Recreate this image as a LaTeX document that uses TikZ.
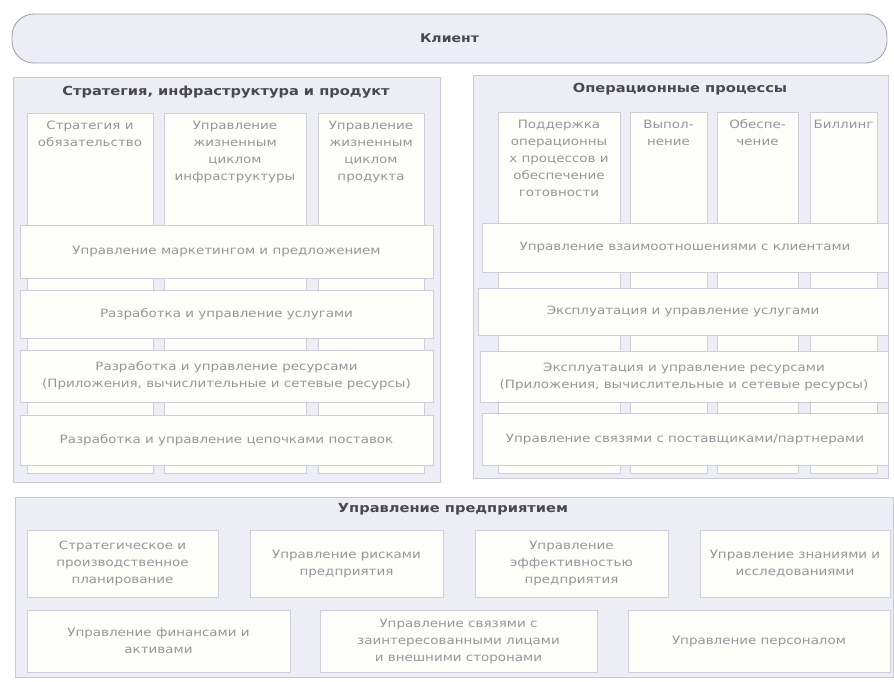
\documentclass[tikz,border=0pt]{standalone}
\usepackage{fontspec}
\setmainfont{DejaVu Sans}[FakeStretch=1.17]
\definecolor{panelfill}{RGB}{237,237,245}
\definecolor{paneldraw}{RGB}{200,200,214}
\definecolor{clientdraw}{RGB}{165,165,178}
\definecolor{boxfill}{RGB}{253,253,249}
\definecolor{boxdraw}{RGB}{206,206,218}
\definecolor{innertext}{RGB}{150,150,156}
\definecolor{titletext}{RGB}{72,72,78}
\newcommand{\mkbox}[7]{%
  \node[#1, minimum width={(#5-#3)*1pt}, minimum height={(#6-#4)*1pt}] (#2) at ({(#3+#5)/2},{(#4+#6)/2}) {#7};}
\tikzset{
  panel/.style={draw=paneldraw, fill=panelfill, line width=0.9pt, inner sep=0pt},
  client/.style={draw=clientdraw, fill=panelfill, line width=0.9pt, rounded corners=22pt, inner sep=0pt,
    font=\bfseries\fontsize{12}{14}\selectfont, text=titletext},
  title/.style={font=\bfseries\fontsize{12.5}{15}\selectfont, text=titletext, inner sep=0pt},
  colbox/.style={draw=boxdraw, fill=boxfill, line width=0.7pt, inner sep=0pt},
  coltext/.style={font=\fontsize{11.5}{17}\selectfont, text=innertext, align=center, inner sep=0pt},
  rowbox/.style={draw=boxdraw, fill=boxfill, line width=0.7pt, inner sep=2pt, align=center,
    font=\fontsize{11.5}{17}\selectfont, text=innertext},
}
\begin{document}
\begin{tikzpicture}[x=1pt,y=-1pt]
\useasboundingbox (0,0) rectangle (894,681);
\fill[white] (0,0) rectangle (894,681);
% client
\mkbox{client}{client}{12}{14}{887}{63}{Клиент}
% panels
\mkbox{panel}{lp}{13}{77}{440}{482}{}
\mkbox{panel}{rp}{473}{75}{888}{478}{}
\mkbox{panel}{bp}{15}{497}{893}{677}{}
\node[title] (lpt) at (226,92) {Стратегия, инфраструктура и продукт};
\node[title] (rpt) at (680,89) {Операционные процессы};
\node[title] (bpt) at (453,509) {Управление предприятием};
% left columns
\mkbox{colbox}{lc1}{27}{113}{153}{473}{}
\mkbox{colbox}{lc2}{164}{113}{306}{473}{}
\mkbox{colbox}{lc3}{318}{113}{424}{473}{}
\node[coltext, anchor=north] (lc1t) at ([yshift=-8pt]lc1.north) {Стратегия и\\обязательство};
\node[coltext, anchor=north] (lc2t) at ([yshift=-8pt]lc2.north) {Управление\\жизненным\\циклом\\инфраструктуры};
\node[coltext, anchor=north] (lc3t) at ([yshift=-8pt]lc3.north) {Управление\\жизненным\\циклом\\продукта};
% left rows
\mkbox{rowbox}{lr1}{20}{225}{433}{278}{Управление маркетингом и предложением}
\mkbox{rowbox}{lr2}{20}{290}{433}{338}{Разработка и управление услугами}
\mkbox{rowbox}{lr3}{20}{350}{433}{402}{Разработка и управление ресурсами\\(Приложения, вычислительные и сетевые ресурсы)}
\mkbox{rowbox}{lr4}{20}{415}{433}{465}{Разработка и управление цепочками поставок}
% right columns
\mkbox{colbox}{rc1}{498}{112}{620}{473}{}
\mkbox{colbox}{rc2}{630}{112}{707}{473}{}
\mkbox{colbox}{rc3}{717}{112}{798}{473}{}
\mkbox{colbox}{rc4}{810}{112}{877}{473}{}
\node[coltext, anchor=north] (rc1t) at ([yshift=-8pt]rc1.north) {Поддержка\\операционны\\х процессов и\\обеспечение\\готовности};
\node[coltext, anchor=north] (rc2t) at ([yshift=-8pt]rc2.north) {Выпол-\\нение};
\node[coltext, anchor=north] (rc3t) at ([yshift=-8pt]rc3.north) {Обеспе-\\чение};
\node[coltext, anchor=north] (rc4t) at ([yshift=-8pt]rc4.north) {Биллинг};
% right rows
\mkbox{rowbox}{rr1}{482}{223}{888}{272}{Управление взаимоотношениями с клиентами}
\mkbox{rowbox}{rr2}{478}{288}{888}{335}{Эксплуатация и управление услугами}
\mkbox{rowbox}{rr3}{480}{351}{888}{402}{Эксплуатация и управление ресурсами\\(Приложения, вычислительные и сетевые ресурсы)}
\mkbox{rowbox}{rr4}{482}{413}{888}{465}{Управление связями с поставщиками/партнерами}
% bottom boxes
\mkbox{rowbox}{b1}{27}{530}{218}{597}{Стратегическое и\\производственное\\планирование}
\mkbox{rowbox}{b2}{250}{530}{443}{597}{Управление рисками\\предприятия}
\mkbox{rowbox}{b3}{475}{530}{668}{597}{Управление\\эффективностью\\предприятия}
\mkbox{rowbox}{b4}{700}{530}{890}{597}{Управление знаниями и\\исследованиями}
\mkbox{rowbox}{b5}{27}{610}{290}{672}{Управление финансами и\\активами}
\mkbox{rowbox}{b6}{320}{610}{597}{672}{Управление связями с\\заинтересованными лицами\\и внешними сторонами}
\mkbox{rowbox}{b7}{628}{610}{890}{672}{Управление персоналом}
\end{tikzpicture}
\end{document}
